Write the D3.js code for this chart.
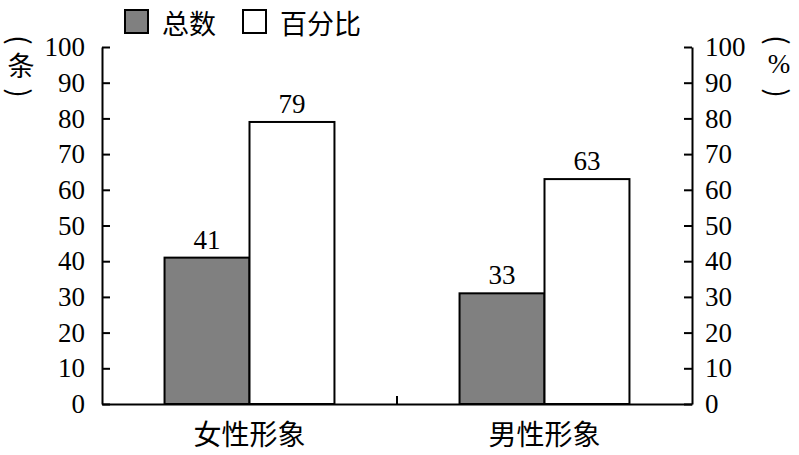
<!DOCTYPE html>
<html>
<head>
<meta charset="utf-8">
<script src="https://cdn.jsdelivr.net/npm/d3@7"></script>
<style>
  body { margin: 0; background: #fff; }
</style>
</head>
<body>
<script>
// data
var categories = ['女性形象', '男性形象'];
var seriesNames = ['总数', '百分比'];
var countBarHeights = [41, 31];   // gray bar tops as drawn against the axis
var countLabels = [41, 33];       // printed numbers above the gray bars
var percentValues = [79, 63];
var yTicks = [0, 10, 20, 30, 40, 50, 60, 70, 80, 90, 100];
var seriesColors = ['#808080', '#ffffff'];

var width = 799, height = 455;
var plotLeft = 102, plotRight = 692, plotTop = 47, plotBottom = 404;
var numFont = 'Liberation Serif, Times New Roman, serif';
var cjkFont = 'Noto Sans CJK SC, sans-serif';

var svg = d3.select('body').append('svg')
    .attr('width', width)
    .attr('height', height);

var y = d3.scaleLinear().domain([0, 100]).range([plotBottom, plotTop]);
var x0 = d3.scaleBand().domain(categories).range([plotLeft, plotRight]).padding(0);
var groupPad = x0.bandwidth() * 0.212;
var x1 = d3.scaleBand().domain(seriesNames).range([groupPad, x0.bandwidth() - groupPad]).padding(0);

var rows = categories.map(function (c, i) {
    return { cat: c, values: [
        { key: seriesNames[0], bar: countBarHeights[i], label: countLabels[i] },
        { key: seriesNames[1], bar: percentValues[i], label: percentValues[i] }
    ] };
});

// bars
var groups = svg.selectAll('g.grp').data(rows).enter().append('g')
    .attr('class', 'grp')
    .attr('transform', function (d) { return 'translate(' + x0(d.cat) + ',0)'; });

groups.selectAll('rect').data(function (d) { return d.values; }).enter().append('rect')
    .attr('x', function (d) { return x1(d.key); })
    .attr('y', function (d) { return y(d.bar); })
    .attr('width', x1.bandwidth())
    .attr('height', function (d) { return y(0) - y(d.bar); })
    .attr('fill', function (d, i) { return seriesColors[i]; })
    .attr('stroke', '#000')
    .attr('stroke-width', 2);

groups.selectAll('text').data(function (d) { return d.values; }).enter().append('text')
    .attr('x', function (d) { return x1(d.key) + x1.bandwidth() / 2; })
    .attr('y', function (d) { return y(d.bar) - 9; })
    .attr('text-anchor', 'middle')
    .attr('font-family', numFont)
    .attr('font-size', 27)
    .attr('fill', '#000')
    .text(function (d) { return d.label; });

// axes
function styleAxis(g) {
    g.selectAll('path, line').attr('stroke', '#000').attr('stroke-width', 2);
    g.selectAll('text').attr('font-family', numFont).attr('font-size', 27).attr('fill', '#000');
}

svg.append('g')
    .attr('transform', 'translate(' + plotLeft + ',0)')
    .call(d3.axisLeft(y).tickValues(yTicks).tickSizeInner(-8).tickSizeOuter(0).tickPadding(17))
    .call(styleAxis);

svg.append('g')
    .attr('transform', 'translate(' + plotRight + ',0)')
    .call(d3.axisRight(y).tickValues(yTicks).tickSizeInner(-8).tickSizeOuter(0).tickPadding(13))
    .call(styleAxis);

var xAxis = svg.append('g')
    .attr('transform', 'translate(0,' + plotBottom + ')')
    .call(d3.axisBottom(x0).tickSizeInner(0).tickSizeOuter(0).tickPadding(20))
    .call(styleAxis);
xAxis.selectAll('.tick text')
    .attr('font-family', cjkFont)
    .attr('font-size', 28)
    .attr('dy', null)
    .attr('y', 29)
    .attr('dominant-baseline', 'central');

// separator tick between categories
svg.append('line')
    .attr('x1', x0(categories[1])).attr('x2', x0(categories[1]))
    .attr('y1', plotBottom).attr('y2', plotBottom - 8)
    .attr('stroke', '#000').attr('stroke-width', 2);

// vertical unit titles: rotated brackets around the unit
function unitTitle(cx, mid, midFont) {
    var g = svg.append('g');
    [['(', 40], [')', 93]].forEach(function (p) {
        g.append('text')
            .attr('x', cx).attr('y', p[1])
            .attr('text-anchor', 'middle')
            .attr('dominant-baseline', 'central')
            .attr('font-family', cjkFont).attr('font-size', 28)
            .attr('transform', 'rotate(90,' + cx + ',' + p[1] + ')')
            .text(p[0]);
    });
    g.append('text').attr('x', cx).attr('y', 64).attr('text-anchor', 'middle')
        .attr('dominant-baseline', 'central').attr('font-family', midFont).attr('font-size', 27)
        .text(mid);
}
unitTitle(21, '条', cjkFont);
unitTitle(779, '%', numFont);

// legend
var legend = svg.append('g');
var legendX = [125, 243];
seriesNames.forEach(function (s, i) {
    legend.append('rect')
        .attr('x', legendX[i]).attr('y', 10)
        .attr('width', 23).attr('height', 23)
        .attr('fill', seriesColors[i])
        .attr('stroke', '#000').attr('stroke-width', 2);
    legend.append('text')
        .attr('x', legendX[i] + 37).attr('y', 22)
        .attr('dominant-baseline', 'central')
        .attr('font-family', cjkFont).attr('font-size', 27)
        .text(s);
});
</script>
</body>
</html>
